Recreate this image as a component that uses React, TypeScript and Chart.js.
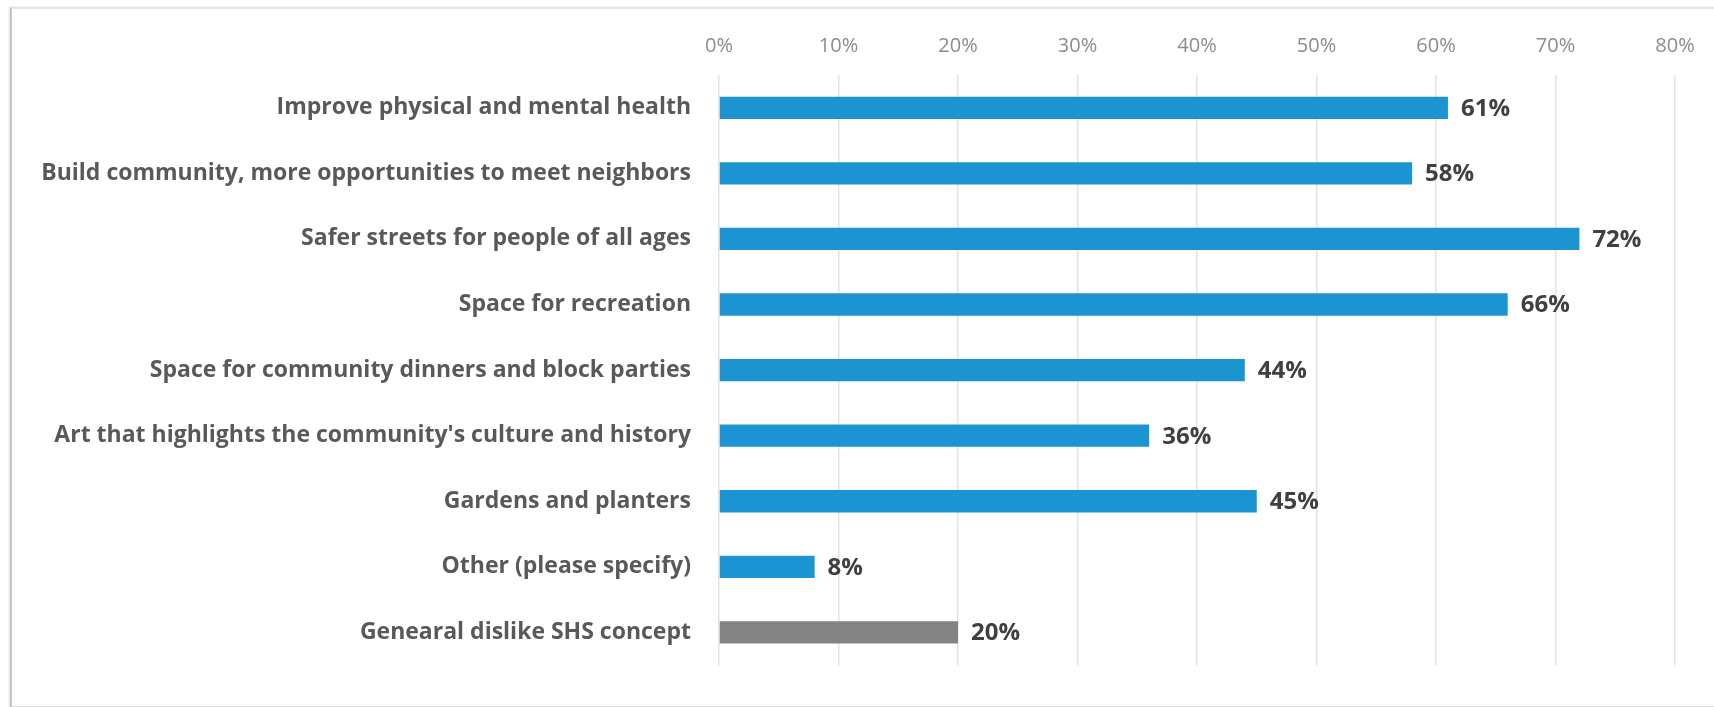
import React, { useEffect, useRef } from "react";
import { Chart, registerables } from "chart.js";

Chart.register(...registerables);

const categories = [
  "Improve physical and mental health",
  "Build community, more opportunities to meet neighbors",
  "Safer streets for people of all ages",
  "Space for recreation",
  "Space for community dinners and block parties",
  "Art that highlights the community's culture and history",
  "Gardens and planters",
  "Other (please specify)",
  "Genearal dislike SHS concept",
];
const values = [61, 58, 72, 66, 44, 36, 45, 8, 20];
const valueLabels = ["61%", "58%", "72%", "66%", "44%", "36%", "45%", "8%", "20%"];
const barColors = ["#1c94d1", "#1c94d1", "#1c94d1", "#1c94d1", "#1c94d1", "#1c94d1", "#1c94d1", "#1c94d1", "#838383"];
const xMin = 0;
const xMax = 80;
const xStep = 10;

const FONT = "'Open Sans', Lato, sans-serif";

const valueLabelPlugin = {
  id: "valueLabels",
  afterDatasetsDraw(chart: any) {
    const ctx = chart.ctx;
    const meta = chart.getDatasetMeta(0);
    ctx.save();
    ctx.font = `bold 24px ${FONT}`;
    ctx.fillStyle = "#404040";
    ctx.textAlign = "left";
    ctx.textBaseline = "middle";
    meta.data.forEach((bar: any, i: number) => {
      ctx.fillText(valueLabels[i], bar.x + 13, bar.y + 1);
    });
    ctx.restore();
  },
};

export default function App() {
  const ref = useRef<HTMLCanvasElement>(null);
  useEffect(() => {
    document.body.style.margin = "0";
    document.body.style.overflow = "hidden";
    const chart = new Chart(ref.current!, {
      type: "bar",
      data: {
        labels: categories,
        datasets: [
          {
            data: values,
            backgroundColor: barColors,
            barPercentage: 0.34,
            categoryPercentage: 1,
          },
        ],
      },
      options: {
        indexAxis: "y",
        animation: false,
        responsive: false,
        maintainAspectRatio: false,
        layout: { padding: { left: 0, right: 39, top: 0, bottom: 35 } },
        plugins: { legend: { display: false }, tooltip: { enabled: false } },
        scales: {
          x: {
            position: "top",
            min: xMin,
            max: xMax,
            ticks: {
              stepSize: xStep,
              callback: (v: any) => `${v}%`,
              color: "#8c8c8c",
              font: { family: FONT, size: 20 },
              padding: 17,
            },
            grid: { color: "#e3e3e3", lineWidth: 1.5, drawTicks: false },
            border: { display: false },
            afterFit: (s: any) => {
              s.height = 75;
            },
          },
          y: {
            ticks: {
              color: "#595959",
              font: { family: FONT, size: 23, weight: "bold" },
              padding: 28,
            },
            grid: { display: false, drawTicks: false },
            border: { display: false },
            afterFit: (s: any) => {
              s.width = 719;
            },
          },
        },
      },
      plugins: [valueLabelPlugin],
    } as any);
    return () => chart.destroy();
  }, []);

  return (
    <div style={{ position: "fixed", left: 0, top: 0, width: 1714, height: 707, background: "#fff", overflow: "hidden" }}>
      <div
        style={{
          position: "absolute",
          left: 10,
          top: 7,
          width: 1800,
          height: 697,
          borderTop: "2px solid #e6e6e6",
          borderLeft: "2px solid #c4c4c4",
          borderBottom: "2px solid #e0e0e0",
          boxShadow: "-1px 0 2px rgba(0,0,0,0.12)",
        }}
      />
      <canvas ref={ref} width={1714} height={707} style={{ position: "absolute", left: 0, top: 0 }} />
    </div>
  );
}
